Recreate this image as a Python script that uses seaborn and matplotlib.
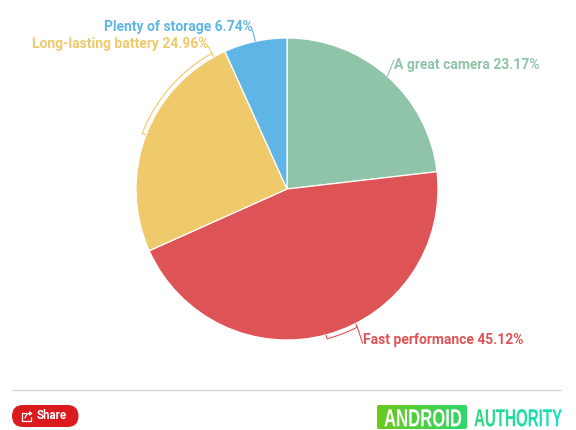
import numpy as np
import matplotlib
matplotlib.use("Agg")
import matplotlib.pyplot as plt
from matplotlib.patches import FancyBboxPatch
from matplotlib.patheffects import AbstractPathEffect
from matplotlib.transforms import Affine2D, Bbox
from matplotlib.colors import LinearSegmentedColormap, to_rgb
import seaborn as sns

categories = ["A great camera", "Fast performance", "Long-lasting battery", "Plenty of storage"]
values = [23.17, 45.12, 24.96, 6.74]
colors = ["#8FC4A8", "#DE5356", "#EFCA6B", "#5FB6E6"]

sns.set_theme(style="white")
plt.rcParams["font.family"] = ["Roboto", "DejaVu Sans"]

fig = plt.figure(figsize=(5.76, 4.30), dpi=100)
ax = fig.add_axes([0, 0, 1, 1])
CX, CY, R = 287, 189, 151
ax.pie(values, colors=sns.color_palette(colors), center=(CX, CY), radius=R,
       startangle=-90, counterclock=True,
       wedgeprops=dict(edgecolor="white", linewidth=0.9))
ax.set_xlim(0, 576)
ax.set_ylim(430, 0)
ax.set_aspect("equal")
ax.axis("off")


def pol(deg, r):
    t = np.radians(deg)
    return CX + r * np.sin(t), CY - r * np.cos(t)


def bracket(a0, a1, color, end):
    th = np.linspace(a0, a1, 50)
    xs, ys = pol(th, 155)
    x0, y0 = pol(a0, 151.5)
    x1, y1 = pol(a1, 151.5)
    ax.plot([x0, *xs, x1], [y0, *ys, y1], color=color, lw=0.8, solid_joinstyle="round")
    mx, my = pol(a1, 155)
    ax.plot([mx, end[0]], [my, end[1]], color=color, lw=0.8)


# Leader lines
ax.plot([387.5, 394], [76, 60], color=colors[0], lw=0.8)
ax.plot([255.3, 252.3], [41, 30], color=colors[3], lw=0.8)
bracket(165, 153, colors[1], (362.5, 343))
bracket(291, 331, colors[2], (208.3, 46.5))

# Labels
positions = [(394, 65, "left"), (362.8, 340, "left"), (209, 44, "right"), (253, 27, "right")]
for c, v, col, (x, y, ha) in zip(categories, values, colors, positions):
    ax.text(x, y, f"{c} {v:.2f}%", color=col, fontsize=10.0, fontweight="bold",
            ha=ha, va="center")

# Footer rule
ax.plot([12, 561], [389.5, 389.5], color="#D9D9D9", lw=1)

# Share button
ax.add_patch(FancyBboxPatch((12, 405), 66.5, 22, boxstyle="round,pad=0,rounding_size=11",
                            fc="#DB1A1E", ec="none"))
ax.plot([25.5, 21.5, 21.5, 30.5, 30.5], [412.5, 412.5, 420.5, 420.5, 416.5], color="white", lw=0.9)
ax.plot([25, 26, 28, 31.5], [418, 415.5, 413.6, 413.4], color="white", lw=0.9)
ax.fill([29, 32.5, 29], [410.8, 413.4, 416], color="white", lw=0)
ax.text(37, 415.5, "Share", color="white", fontsize=8.3, fontweight="bold", ha="left", va="center")


# Logo: one real text per word, stretched to the condensed look of the wordmark
class Stretch(AbstractPathEffect):
    def __init__(self, sx, sy, x0, y0, x1=None, cmap=None):
        super().__init__()
        self.sx, self.sy, self.x0, self.y0 = sx, sy, x0, y0
        self.x1, self.cmap = x1, cmap

    def draw_path(self, renderer, gc, tpath, affine, rgbFace=None):
        t = affine + (Affine2D().translate(-self.x0, -self.y0)
                      .scale(self.sx, self.sy).translate(self.x0, self.y0))
        if self.cmap is None:
            renderer.draw_path(gc, tpath, t, rgbFace)
            return
        n = 44
        edges = np.linspace(self.x0, self.x1, n + 1)
        for i in range(n):
            g = renderer.new_gc()
            g.copy_properties(gc)
            g.set_clip_rectangle(Bbox([[edges[i], 0], [edges[i + 1], fig.bbox.height]]))
            renderer.draw_path(g, tpath, t, to_rgb(self.cmap((i + 0.5) / n)))
            g.restore()


def wordmark(word, x0, x1, y_base, color, cmap=None):
    fam = ["Liberation Sans", "Roboto", "DejaVu Sans"]
    fs, target_fs = 10.6, 17.8
    t = ax.text(x0, y_base, word, color=color, fontsize=fs, fontweight="bold", family=fam,
                ha="left", va="baseline", zorder=3)
    w = t.get_window_extent(fig.canvas.get_renderer()).width
    dx0, dy0 = ax.transData.transform((x0, y_base))
    dx1 = ax.transData.transform((x1, y_base))[0]
    t.set_path_effects([Stretch((x1 - x0) / w, target_fs / fs, dx0, dy0, dx1 + 1, cmap)])


green_map = LinearSegmentedColormap.from_list("g", ["#6CC81C", "#2FD76A"])
teal_map = LinearSegmentedColormap.from_list("t", ["#2FD77A", "#0EE3C0"])
img = ax.imshow(np.linspace(0, 1, 90)[None, :], extent=(377, 467, 429, 405), cmap=green_map,
                aspect="auto", zorder=2)
clip = FancyBboxPatch((377, 405), 90, 24, boxstyle="round,pad=0,rounding_size=2",
                      fc="none", ec="none", transform=ax.transData)
ax.add_patch(clip)
img.set_clip_path(clip)
ax.set_xlim(0, 576)
ax.set_ylim(430, 0)
wordmark("ANDROID", 384, 462, 426.3, "white")
wordmark("AUTHORITY", 474, 562, 426.3, "#1EDD9D", teal_map)

fig.savefig("out.png", dpi=100, facecolor="white")
